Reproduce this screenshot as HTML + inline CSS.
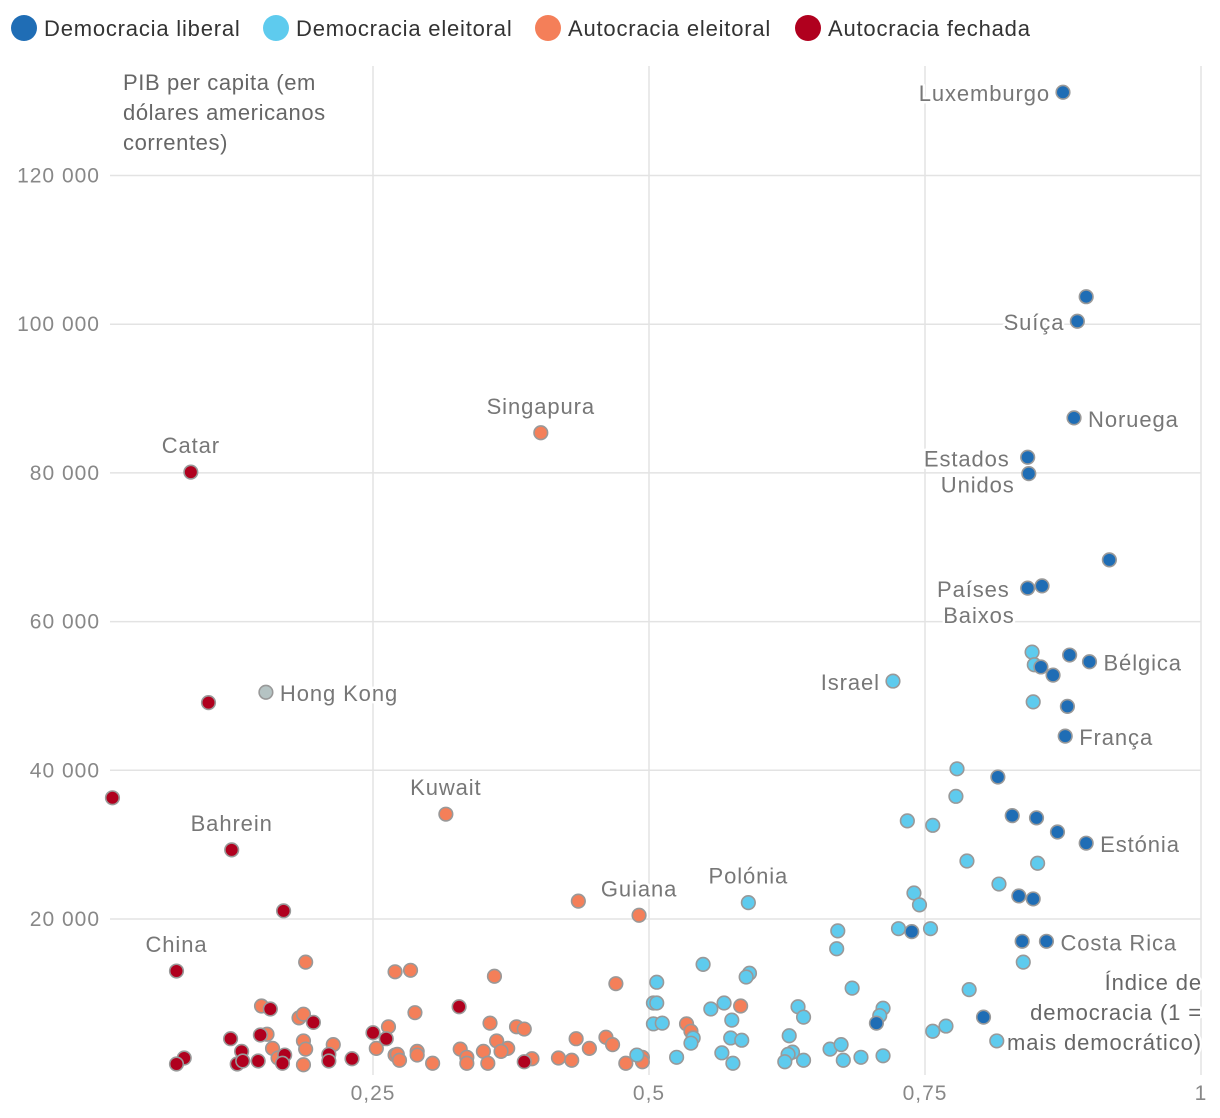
<!DOCTYPE html>
<html><head><meta charset="utf-8">
<style>
html,body{margin:0;padding:0;background:#fff;}
svg{display:block;font-family:"Liberation Sans",sans-serif;}
.tick{fill:#888;font-size:21px;letter-spacing:1px;}
.lbl{fill:#777;font-size:22px;letter-spacing:0.9px;}
.halo{paint-order:stroke;stroke:#fff;stroke-width:5px;stroke-linejoin:round;}
</style></head>
<body>
<svg id="chart" width="1220" height="1118" viewBox="0 0 1220 1118">
<g id="legend"></g>
<g id="grid"></g>
<g id="axes"></g>
<g id="points"></g>
<g id="labels"></g>
<text x="123" y="90" class="lbl" style="fill:#666;letter-spacing:0.6px"><tspan x="123" y="90">PIB per capita (em</tspan><tspan x="123" y="120">dólares americanos</tspan><tspan x="123" y="150">correntes)</tspan></text>
<text class="lbl halo" text-anchor="end" style="fill:#666;letter-spacing:0.9px"><tspan x="1202" y="990">Índice de</tspan><tspan x="1202" y="1020">democracia (1 =</tspan><tspan x="1202" y="1050">mais democrático)</tspan></text>
</svg>
<script>
const categories = ["Democracia liberal","Democracia eleitoral","Autocracia eleitoral","Autocracia fechada"];
const categoryColors = ["#1f6db5","#5ecbee","#f47f59","#b0001e"];
const xTicks = [0.25,0.5,0.75,1];
const xTickLabels = ["0,25","0,5","0,75","1"];
const yTicks = [20000,40000,60000,80000,100000,120000];
const yTickLabels = ["20 000","40 000","60 000","80 000","100 000","120 000"];

const libX = [0.875,0.896,0.888,0.885,0.843,0.844,0.917,0.843,0.856,0.881,0.899,0.855,0.866,0.879,0.877,0.816,0.829,0.851,0.870,0.896,0.835,0.848,0.738,0.838,0.860,0.706,0.803];
const libY = [131200,103700,100400,87400,82100,79900,68300,64500,64800,55500,54600,53900,52800,48600,44600,39100,33900,33600,31700,30200,23100,22700,18300,17000,17000,6000,6800];

const eleX = [0.847,0.849,0.721,0.848,0.779,0.778,0.734,0.757,0.788,0.852,0.817,0.740,0.745,0.726,0.755,0.839,0.671,0.670,0.590,0.790,0.815,0.507,0.504,0.507,0.504,0.512,0.489,0.525,0.549,0.591,0.588,0.684,0.556,0.568,0.635,0.640,0.712,0.709,0.540,0.538,0.575,0.574,0.584,0.627,0.757,0.769,0.566,0.576,0.630,0.626,0.623,0.640,0.664,0.674,0.676,0.692,0.712];
const eleY = [55900,54200,52000,49200,40200,36500,33200,32600,27800,27500,24700,23500,21900,18700,18700,14200,18400,16000,22200,10500,3600,11500,8700,8700,5900,6000,1700,1400,13900,12700,12200,10700,7900,8700,8200,6800,8000,7000,4000,3300,6400,4000,3700,4300,4900,5600,2000,600,2100,1800,800,1000,2500,3100,1000,1400,1600];

const autX = [0.402,0.316,0.436,0.491,0.189,0.270,0.284,0.360,0.470,0.149,0.183,0.187,0.154,0.159,0.264,0.253,0.164,0.187,0.189,0.187,0.214,0.270,0.288,0.356,0.380,0.387,0.362,0.372,0.366,0.434,0.446,0.461,0.467,0.329,0.335,0.335,0.350,0.354,0.272,0.274,0.290,0.290,0.304,0.394,0.418,0.430,0.479,0.494,0.494,0.583,0.534,0.538];
const autY = [85400,34100,22400,20500,14200,12900,13100,12300,11300,8300,6700,7200,4500,2600,5500,2600,1300,3600,2500,400,3100,1700,7400,6000,5500,5200,3600,2600,2200,3900,2600,4100,3100,2500,1400,600,2200,600,1800,1000,2200,1700,600,1200,1300,1000,600,1400,800,8300,5900,4900];

const cloX = [0.085,0.101,0.014,0.122,0.169,0.072,0.157,0.196,0.121,0.148,0.131,0.250,0.262,0.079,0.072,0.127,0.132,0.146,0.170,0.168,0.210,0.210,0.231,0.328,0.387];
const cloY = [80100,49100,36300,29300,21100,13000,7900,6100,3900,4400,2200,4700,3900,1300,500,500,900,900,1700,600,1800,900,1200,8200,800];

const hkX = [0.153];
const hkY = [50500];

const annNames = ["Luxemburgo","Suíça","Noruega","Estados|Unidos","Países|Baixos","Bélgica","Israel","França","Estónia","Costa Rica","Catar","Singapura","Hong Kong","Kuwait","Bahrein","Guiana","Polónia","China"];
const annX = [0.875,0.888,0.885,0.843,0.843,0.899,0.721,0.877,0.896,0.860,0.085,0.402,0.153,0.316,0.122,0.491,0.590,0.072];
const annY = [131200,100400,87400,82100,64500,54600,52000,44600,30200,17000,80100,85400,50500,34100,29300,20500,22200,13000];
const annPos = ["left","left","right","left2","left2","right","left","right","right","right","top","top","right","top","top","top","top","top"];

const NS="http://www.w3.org/2000/svg";
const X0=97, X1=1201, Y0=1067.7, YPX=148.7/20000;
function sx(v){return X0+v*(X1-X0);}
function sy(v){return Y0-v*YPX;}
function mk(tag,attrs,parent){const e=document.createElementNS(NS,tag);for(const k in attrs)e.setAttribute(k,attrs[k]);parent.appendChild(e);return e;}

const grid=document.getElementById('grid'), axes=document.getElementById('axes');
xTicks.forEach((t,i)=>{
  const l=mk('line',{x1:sx(t),x2:sx(t),y1:66,y2:1075,stroke:'#e3e3e3','stroke-width':1.5},grid);
  
  
  const tx=mk('text',{x:sx(t),y:1100,'text-anchor':'middle',class:'tick'},axes);
  tx.textContent=xTickLabels[i];
  
  
});
yTicks.forEach((t,i)=>{
  const l=mk('line',{x1:110,x2:1201,y1:sy(t),y2:sy(t),stroke:'#e3e3e3','stroke-width':1.5},grid);
  
  
  const tx=mk('text',{x:100,y:sy(t)+7,'text-anchor':'end',class:'tick'},axes);
  tx.textContent=yTickLabels[i];
  
  
});

const pts=document.getElementById('points');
function series(xs,ys,color,name){
  xs.forEach((x,i)=>{
    const c=mk('circle',{cx:sx(x),cy:sy(ys[i]),r:6.8,fill:color,stroke:'#999','stroke-width':1.6},pts);
    
    
  });
}
series(hkX,hkY,'#b5c3c3','point-hong-kong');
series(autX,autY,categoryColors[2],'point-electoral-autocracy');
series(eleX,eleY,categoryColors[1],'point-electoral-democracy');
series(cloX,cloY,categoryColors[3],'point-closed-autocracy');
series(libX,libY,categoryColors[0],'point-liberal-democracy');

const lab=document.getElementById('labels');
annNames.forEach((n,i)=>{
  const px=sx(annX[i]), py=sy(annY[i]), p=annPos[i];
  const t=mk('text',{class:'lbl halo'},lab);
  
  
  if(p==='left'){t.setAttribute('x',px-13);t.setAttribute('y',py+9);t.setAttribute('text-anchor','end');t.textContent=n;}
  else if(p==='right'){t.setAttribute('x',px+14);t.setAttribute('y',py+9);t.textContent=n;}
  else if(p==='top'){t.setAttribute('x',px);t.setAttribute('y',py-19);t.setAttribute('text-anchor','middle');t.textContent=n;}
  else {const parts=n.split('|');t.setAttribute('text-anchor','end');
    const a=mk('tspan',{x:px-18,y:py+9},t);a.textContent=parts[0];
    const b=mk('tspan',{x:px-13,y:py+35},t);b.textContent=parts[1];}
});

const leg=document.getElementById('legend');
const legX=[24,276,548,808];
categories.forEach((c,i)=>{
  const g=mk('g',{},leg);
  
  
  mk('circle',{cx:legX[i],cy:28,r:13,fill:categoryColors[i]},g);
  const t=mk('text',{x:legX[i]+20,y:36,style:'font-size:22px;fill:#333;letter-spacing:0.8px'},g);
  t.textContent=c;
});
</script>
</body></html>
